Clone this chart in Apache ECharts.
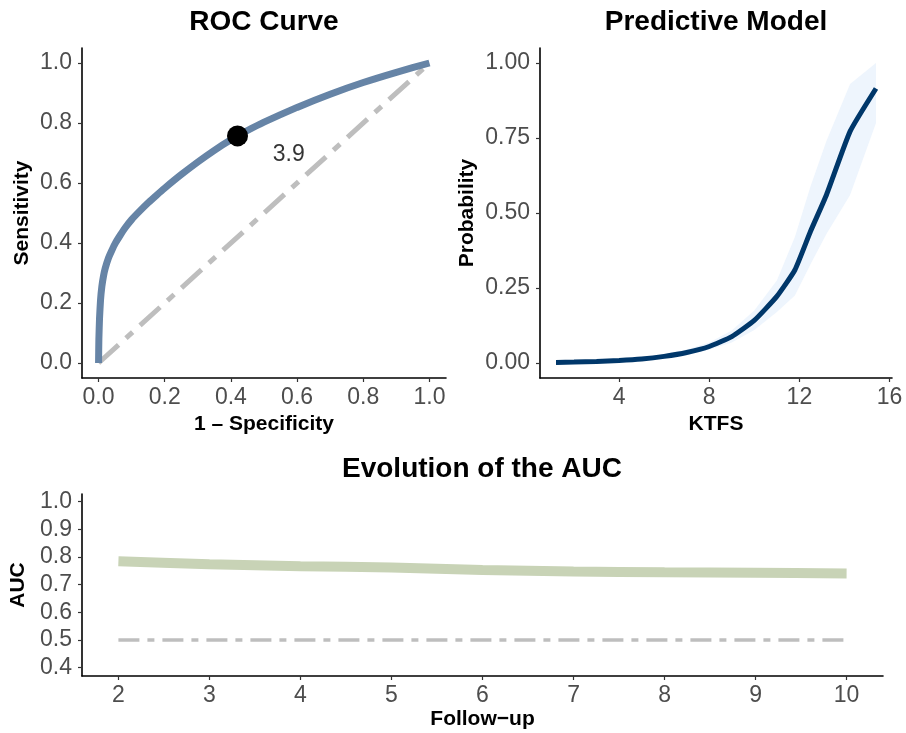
<!DOCTYPE html>
<html><head><meta charset="utf-8">
<script src="https://cdn.jsdelivr.net/npm/echarts@6/dist/echarts.min.js"></script>
<style>html,body{margin:0;padding:0;background:#fff}#c{width:906px;height:733px}</style>
</head><body><div id="c"></div>
<script>
// ROC curve
const rocFpr  = [0, 0.001, 0.003, 0.006, 0.01, 0.015, 0.02, 0.03, 0.04, 0.05, 0.065, 0.08, 0.1, 0.125, 0.15, 0.175, 0.2, 0.25, 0.3, 0.35, 0.4, 0.45, 0.5, 0.6, 0.7, 0.8, 0.9, 1.0];
const rocSens = [0, 0.08, 0.15, 0.21, 0.255, 0.29, 0.315, 0.35, 0.375, 0.398, 0.425, 0.45, 0.478, 0.507, 0.534, 0.559, 0.583, 0.628, 0.670, 0.709, 0.744, 0.775, 0.803, 0.852, 0.896, 0.935, 0.969, 1.0];
const cutoffPoint = [0.42, 0.757];
const cutoffLabel = '3.9';
const cutoffLabelAt = [0.575, 0.694];
const rocTicks = [0, 0.2, 0.4, 0.6, 0.8, 1.0];

// Predictive model
const ktfs      = [1.2, 2, 3, 4, 5, 6, 7, 8, 9, 10, 11, 11.8, 12.5, 13.2, 14.25, 15.4];
const prob      = [0.002, 0.003, 0.005, 0.008, 0.013, 0.022, 0.035, 0.055, 0.088, 0.142, 0.222, 0.31, 0.44, 0.56, 0.772, 0.915];
const probLower = [0.001, 0.002, 0.003, 0.005, 0.009, 0.016, 0.027, 0.044, 0.068, 0.11, 0.17, 0.225, 0.33, 0.43, 0.56, 0.80];
const probUpper = [0.004, 0.005, 0.008, 0.012, 0.018, 0.029, 0.045, 0.068, 0.108, 0.175, 0.275, 0.42, 0.59, 0.74, 0.93, 1.0];
const probTicks = [0, 0.25, 0.5, 0.75, 1.0];
const ktfsTicks = [4, 8, 12, 16];

// AUC evolution
const followUp = [2, 3, 4, 5, 6, 7, 8, 9, 10];
const auc      = [0.785, 0.774, 0.767, 0.762, 0.753, 0.748, 0.745, 0.743, 0.741];
const aucRef   = 0.5;
const aucTicks = [0.4, 0.5, 0.6, 0.7, 0.8, 0.9, 1.0];

const FONT = 'Liberation Sans, Arial, sans-serif';
const tickLabel = (dec, margin) => ({ color: '#4D4D4D', fontSize: 23, fontFamily: FONT, margin: margin,
  formatter: v => Number(v).toFixed(dec) });
const axisLine = { show: true, onZero: false, lineStyle: { color: '#000', width: 1.6 } };
const axisTick = (vals) => ({ show: true, length: 4, lineStyle: { color: '#333', width: 1.2 }, customValues: vals });
const nameStyle = { color: '#000', fontSize: 21, fontWeight: 'bold', fontFamily: FONT };

const rocData = rocFpr.map((x, i) => [x, rocSens[i]]);
const probData = ktfs.map((x, i) => [x, prob[i]]);
const aucData = followUp.map((x, i) => [x, auc[i]]);

const chart = echarts.init(document.getElementById('c'), null, { renderer: 'canvas' });
chart.setOption({
  animation: false,
  backgroundColor: '#fff',
  title: [
    { text: 'ROC Curve', left: 264, top: 8, textAlign: 'center', padding: 0,
      textStyle: { fontSize: 28, fontWeight: 'bold', color: '#000', fontFamily: FONT } },
    { text: 'Predictive Model', left: 716, top: 8, textAlign: 'center', padding: 0,
      textStyle: { fontSize: 28, fontWeight: 'bold', color: '#000', fontFamily: FONT } },
    { text: 'Evolution of the AUC', left: 482, top: 455, textAlign: 'center', padding: 0,
      textStyle: { fontSize: 28, fontWeight: 'bold', color: '#000', fontFamily: FONT } }
  ],
  grid: [
    { left: 82, top: 48, width: 364, height: 330 },
    { left: 540, top: 48, width: 352, height: 330 },
    { left: 82, top: 494, width: 801, height: 182 }
  ],
  xAxis: [
    { gridIndex: 0, type: 'value', min: -0.05, max: 1.05, axisLine, splitLine: { show: false },
      axisTick: axisTick(rocTicks), axisLabel: Object.assign(tickLabel(1, 8), { customValues: rocTicks }),
      name: '1 \u2013 Specificity', nameLocation: 'middle', nameGap: 36, nameTextStyle: nameStyle },
    { gridIndex: 1, type: 'value', min: 0.49, max: 16.11, axisLine, splitLine: { show: false },
      axisTick: axisTick(ktfsTicks), axisLabel: Object.assign(tickLabel(0, 8), { customValues: ktfsTicks }),
      name: 'KTFS', nameLocation: 'middle', nameGap: 36, nameTextStyle: nameStyle },
    { gridIndex: 2, type: 'value', min: 1.6, max: 10.4, axisLine, splitLine: { show: false },
      axisTick: axisTick(followUp), axisLabel: Object.assign(tickLabel(0, 8), { customValues: followUp }),
      name: 'Follow\u2212up', nameLocation: 'middle', nameGap: 33, nameTextStyle: nameStyle }
  ],
  yAxis: [
    { gridIndex: 0, type: 'value', min: -0.05, max: 1.05, axisLine, splitLine: { show: false },
      axisTick: axisTick(rocTicks), axisLabel: Object.assign(tickLabel(1, 10), { customValues: rocTicks }),
      name: 'Sensitivity', nameLocation: 'middle', nameRotate: 90, nameGap: 49, nameTextStyle: nameStyle },
    { gridIndex: 1, type: 'value', min: -0.05, max: 1.05, axisLine, splitLine: { show: false },
      axisTick: axisTick(probTicks), axisLabel: Object.assign(tickLabel(2, 10), { customValues: probTicks }),
      name: 'Probability', nameLocation: 'middle', nameRotate: 90, nameGap: 62, nameTextStyle: nameStyle },
    { gridIndex: 2, type: 'value', min: 0.37, max: 1.028, axisLine, splitLine: { show: false },
      axisTick: axisTick(aucTicks), axisLabel: Object.assign(tickLabel(1, 10), { customValues: aucTicks }),
      name: 'AUC', nameLocation: 'middle', nameRotate: 90, nameGap: 50, nameTextStyle: nameStyle }
  ],
  series: [
    { type: 'line', xAxisIndex: 0, yAxisIndex: 0, data: [[0, 0], [1, 1]], symbol: 'none', z: 2,
      lineStyle: { color: '#BEBEBE', width: 5, type: [27, 10, 9, 10] } },
    { type: 'line', xAxisIndex: 0, yAxisIndex: 0, data: rocData, symbol: 'none', smooth: 0.15, z: 3,
      lineStyle: { color: '#6684A6', width: 7, cap: 'butt' } },
    { type: 'scatter', xAxisIndex: 0, yAxisIndex: 0, data: [cutoffPoint], symbolSize: 21, z: 4,
      itemStyle: { color: '#000', opacity: 1 } },
    { type: 'scatter', xAxisIndex: 0, yAxisIndex: 0, data: [cutoffLabelAt], symbolSize: 0, z: 4,
      label: { show: true, position: 'inside', formatter: cutoffLabel, color: '#000', fontSize: 23, fontFamily: FONT } },
    { type: 'custom', xAxisIndex: 1, yAxisIndex: 1, z: 1,
      data: [0],
      renderItem: (params, api) => {
        const pts = [];
        for (let i = 0; i < ktfs.length; i++) pts.push(api.coord([ktfs[i], probUpper[i]]));
        for (let i = ktfs.length - 1; i >= 0; i--) pts.push(api.coord([ktfs[i], probLower[i]]));
        return { type: 'polygon', shape: { points: pts }, style: { fill: '#EEF5FD', stroke: null } };
      } },
    { type: 'line', xAxisIndex: 1, yAxisIndex: 1, data: probData, symbol: 'none', smooth: 0.15, z: 3,
      lineStyle: { color: '#00376A', width: 5 } },
    { type: 'line', xAxisIndex: 2, yAxisIndex: 2, data: [[followUp[0], aucRef], [followUp[followUp.length - 1], aucRef]],
      symbol: 'none', z: 2, lineStyle: { color: '#BEBEBE', width: 3.5, type: [21, 8, 7, 8] } },
    { type: 'line', xAxisIndex: 2, yAxisIndex: 2, data: aucData, symbol: 'none', smooth: 0.3, z: 3,
      lineStyle: { color: '#C8D3B6', width: 10 } }
  ]
});
</script></body></html>
